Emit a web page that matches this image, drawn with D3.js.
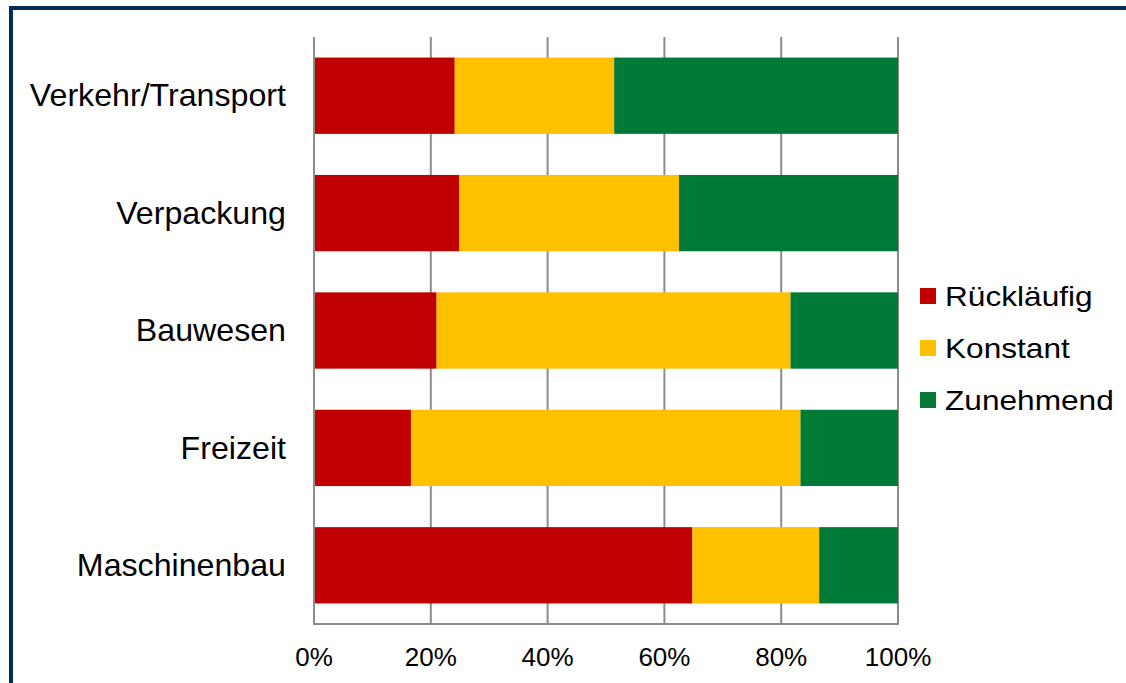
<!DOCTYPE html>
<html><head><meta charset="utf-8">
<script src="https://cdn.jsdelivr.net/npm/d3@7"></script>
<style>html,body{margin:0;padding:0;background:#fff;}svg{display:block;}</style>
</head><body>
<svg id="chart" width="1126" height="683"></svg>
<script>
const categories = ["Verkehr/Transport", "Verpackung", "Bauwesen", "Freizeit", "Maschinenbau"];
const seriesNames = ["Rückläufig", "Konstant", "Zunehmend"];
const ruecklaeufig = [24.1, 24.9, 21.0, 16.6, 64.8];
const konstant = [27.3, 37.6, 60.6, 66.7, 21.7];
const zunehmend = [48.6, 37.5, 18.4, 16.7, 13.5];
const seriesColors = ["#C00000", "#FFC000", "#007A37"];
const tickValues = [0, 0.2, 0.4, 0.6, 0.8, 1.0];

const svg = d3.select("#chart");
const font = "'Liberation Sans', Arial, sans-serif";

// frame
svg.append("path").attr("d", "M11,690 L11,8 L1140,8").attr("fill", "none")
  .attr("stroke", "#002D55").attr("stroke-width", 4);

const x = d3.scaleLinear().domain([0, 1]).range([314, 898]);
const y = d3.scaleBand().domain(categories).range([37, 624]).paddingInner(0.35).paddingOuter(0.175);

const rows = categories.map((c, i) => {
  const vals = [ruecklaeufig[i], konstant[i], zunehmend[i]];
  const tot = d3.sum(vals);
  const o = {cat: c};
  seriesNames.forEach((s, j) => o[s] = vals[j] / tot);
  return o;
});
const stacked = d3.stack().keys(seriesNames)(rows);

// gridlines
svg.append("g").selectAll("line").data(tickValues).join("line")
  .attr("x1", d => x(d)).attr("x2", d => x(d))
  .attr("y1", 37).attr("y2", 624)
  .attr("stroke", "#8C8C8C").attr("stroke-width", 2);

// bars
svg.append("g").selectAll("g").data(stacked).join("g")
  .attr("fill", (d, i) => seriesColors[i])
  .selectAll("rect").data(d => d).join("rect")
  .attr("x", d => x(d[0])).attr("width", d => x(d[1]) - x(d[0]))
  .attr("y", d => y(d.data.cat)).attr("height", y.bandwidth());

// axes lines
svg.append("line").attr("x1", 314).attr("x2", 314).attr("y1", 37).attr("y2", 625)
  .attr("stroke", "#8C8C8C").attr("stroke-width", 2);
svg.append("line").attr("x1", 313).attr("x2", 899).attr("y1", 624).attr("y2", 624)
  .attr("stroke", "#8C8C8C").attr("stroke-width", 2);

// x tick labels
svg.append("g").selectAll("text").data(tickValues).join("text")
  .attr("transform", d => `translate(${x(d)},666)`)
  .attr("text-anchor", "middle")
  .attr("font-family", font).attr("font-size", 26).attr("fill", "#000")
  .text(d => d3.format(".0%")(d));

// category labels
svg.append("g").selectAll("text").data(categories).join("text")
  .attr("transform", d => `translate(286,${y(d) + y.bandwidth() / 2}) scale(1.055,1)`)
  .attr("dy", "0.35em").attr("text-anchor", "end")
  .attr("font-family", font).attr("font-size", 30.5).attr("fill", "#000")
  .text(d => d);

// legend
const lg = svg.append("g").selectAll("g").data(seriesNames).join("g")
  .attr("transform", (d, i) => `translate(920, ${288 + i * 52})`);
lg.append("rect").attr("width", 16).attr("height", 16).attr("fill", (d, i) => seriesColors[i]);
lg.append("text").attr("transform", "translate(25,18) scale(1.13,1)")
  .attr("font-family", font).attr("font-size", 28).attr("fill", "#000")
  .text(d => d);
</script>
</body></html>
